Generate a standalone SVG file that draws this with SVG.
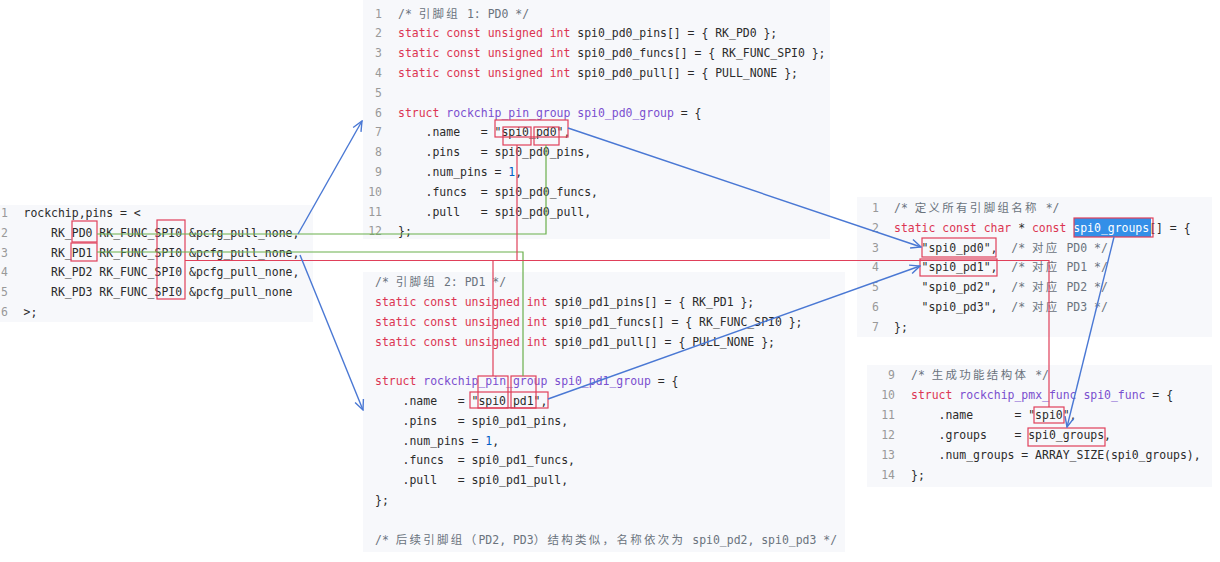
<svg xmlns="http://www.w3.org/2000/svg" width="1220" height="562" viewBox="0 0 1220 562">
<style>
.bg{fill:#f7f8fb}
.c{font-family:"DejaVu Sans Mono","Noto Sans CJK SC",monospace;font-size:11.46px;fill:#2b2b2b;white-space:pre}
.ln{fill:#999;text-anchor:end}
.ll{fill:#999}
.k{fill:#dc3552}
.t{fill:#7a4fcf}
.cm{fill:#6a737d}
.n{fill:#005cc5}
.w{fill:#fff}
.cjk{letter-spacing:2.34px}
.rb{fill:none;stroke:#e0405a;stroke-width:1.2}
.gl{fill:none;stroke:#6ab04c;stroke-width:1.2}
.rl{fill:none;stroke:#e0405a;stroke-width:1.2}
.bl{fill:none;stroke:#4a78d4;stroke-width:1.4}
</style>
<defs>
<marker id="ah" viewBox="0 0 12 12" refX="11" refY="6" markerWidth="12" markerHeight="12" markerUnits="userSpaceOnUse" orient="auto"><path d="M1,1.5 L11,6 L1,10.5" fill="none" stroke="#4a78d4" stroke-width="1.4"/></marker>
</defs>
<rect width="1220" height="562" fill="#fff"/>

<g id="pins-dts">
<rect class="bg" x="0" y="205" width="313" height="117"/>
<text class="c ll" x="1" y="217.3">1</text>
<text class="c ll" x="1" y="237">2</text>
<text class="c ll" x="1" y="256.7">3</text>
<text class="c ll" x="1" y="276.4">4</text>
<text class="c ll" x="1" y="296.1">5</text>
<text class="c ll" x="1" y="315.8">6</text>
<text class="c" x="23.5" y="217.3">rockchip,pins = &lt;</text>
<text class="c" x="23.5" y="237">    RK_PD0 RK_FUNC_SPI0 &amp;pcfg_pull_none,</text>
<text class="c" x="23.5" y="256.7">    RK_PD1 RK_FUNC_SPI0 &amp;pcfg_pull_none,</text>
<text class="c" x="23.5" y="276.4">    RK_PD2 RK_FUNC_SPI0 &amp;pcfg_pull_none,</text>
<text class="c" x="23.5" y="296.1">    RK_PD3 RK_FUNC_SPI0 &amp;pcfg_pull_none</text>
<text class="c" x="23.5" y="315.8">&gt;;</text>
<rect class="rb" x="72" y="221" width="25" height="21"/>
<rect class="rb" x="71" y="243" width="26" height="18"/>
<rect class="rb" x="157" y="220" width="28" height="79"/>
</g>

<g id="group-pd0">
<rect class="bg" x="363" y="0" width="467" height="239"/>
<text class="c ln" x="382" y="17.5">1</text>
<text class="c ln" x="382" y="37.3">2</text>
<text class="c ln" x="382" y="57.1">3</text>
<text class="c ln" x="382" y="76.9">4</text>
<text class="c ln" x="382" y="96.7">5</text>
<text class="c ln" x="382" y="116.5">6</text>
<text class="c ln" x="382" y="136.3">7</text>
<text class="c ln" x="382" y="156.1">8</text>
<text class="c ln" x="382" y="175.9">9</text>
<text class="c ln" x="382" y="195.7">10</text>
<text class="c ln" x="382" y="215.5">11</text>
<text class="c ln" x="382" y="235.3">12</text>
<text class="c cm" x="398" y="17.5">/* <tspan class="cjk">引脚组</tspan> 1: PD0 */</text>
<text class="c" x="398" y="37.3"><tspan class="k">static const unsigned int</tspan> spi0_pd0_pins[] = { RK_PD0 };</text>
<text class="c" x="398" y="57.1"><tspan class="k">static const unsigned int</tspan> spi0_pd0_funcs[] = { RK_FUNC_SPI0 };</text>
<text class="c" x="398" y="76.9"><tspan class="k">static const unsigned int</tspan> spi0_pd0_pull[] = { PULL_NONE };</text>
<text class="c" x="398" y="116.5"><tspan class="k">struct</tspan> <tspan class="t">rockchip_pin_group spi0_pd0_group</tspan> = {</text>
<text class="c" x="398" y="136.3">    .name   = "spi0_pd0",</text>
<text class="c" x="398" y="156.1">    .pins   = spi0_pd0_pins,</text>
<text class="c" x="398" y="175.9">    .num_pins = <tspan class="n">1</tspan>,</text>
<text class="c" x="398" y="195.7">    .funcs  = spi0_pd0_funcs,</text>
<text class="c" x="398" y="215.5">    .pull   = spi0_pd0_pull,</text>
<text class="c" x="398" y="235.3">};</text>
<rect class="rb" x="503" y="127" width="28" height="18"/>
<rect class="rb" x="534" y="127" width="25" height="18"/>
<rect class="rb" x="495" y="120" width="73" height="17"/>
</g>

<g id="group-pd1">
<rect class="bg" x="363" y="272" width="482" height="280"/>
<text class="c cm" x="375" y="286.3">/* <tspan class="cjk">引脚组</tspan> 2: PD1 */</text>
<text class="c" x="375" y="306.1"><tspan class="k">static const unsigned int</tspan> spi0_pd1_pins[] = { RK_PD1 };</text>
<text class="c" x="375" y="325.9"><tspan class="k">static const unsigned int</tspan> spi0_pd1_funcs[] = { RK_FUNC_SPI0 };</text>
<text class="c" x="375" y="345.7"><tspan class="k">static const unsigned int</tspan> spi0_pd1_pull[] = { PULL_NONE };</text>
<text class="c" x="375" y="385.2"><tspan class="k">struct</tspan> <tspan class="t">rockchip_pin_group spi0_pd1_group</tspan> = {</text>
<text class="c" x="375" y="405">    .name   = "spi0_pd1",</text>
<text class="c" x="375" y="424.8">    .pins   = spi0_pd1_pins,</text>
<text class="c" x="375" y="444.6">    .num_pins = <tspan class="n">1</tspan>,</text>
<text class="c" x="375" y="464.4">    .funcs  = spi0_pd1_funcs,</text>
<text class="c" x="375" y="484.2">    .pull   = spi0_pd1_pull,</text>
<text class="c" x="375" y="504">};</text>
<text class="c cm" x="375" y="543.5">/* <tspan class="cjk">后续引脚组（</tspan>PD2, PD3<tspan class="cjk">）结构类似，名称依次为</tspan> spi0_pd2, spi0_pd3 */</text>
<rect class="rb" x="478" y="376" width="30" height="32"/>
<rect class="rb" x="511" y="376" width="25" height="32"/>
<rect class="rb" x="470" y="392" width="78" height="16"/>
</g>

<g id="spi0-groups">
<rect class="bg" x="857" y="197" width="355" height="140"/>
<text class="c ln" x="879" y="212">1</text>
<text class="c ln" x="879" y="231.8">2</text>
<text class="c ln" x="879" y="251.6">3</text>
<text class="c ln" x="879" y="271.4">4</text>
<text class="c ln" x="879" y="291.2">5</text>
<text class="c ln" x="879" y="311">6</text>
<text class="c ln" x="879" y="330.8">7</text>
<rect x="1074" y="218" width="77" height="19" fill="#338fe8"/>
<text class="c cm" x="894" y="212">/* <tspan class="cjk">定义所有引脚组名称</tspan> */</text>
<text class="c" x="894" y="231.8"><tspan class="k">static const char</tspan> * <tspan class="k">const</tspan> <tspan class="w">spi0_groups</tspan>[] = {</text>
<text class="c" x="894" y="251.6">    "spi0_pd0",  <tspan class="cm">/* <tspan class="cjk">对应</tspan> PD0 */</tspan></text>
<text class="c" x="894" y="271.4">    "spi0_pd1",  <tspan class="cm">/* <tspan class="cjk">对应</tspan> PD1 */</tspan></text>
<text class="c" x="894" y="291.2">    "spi0_pd2",  <tspan class="cm">/* <tspan class="cjk">对应</tspan> PD2 */</tspan></text>
<text class="c" x="894" y="311">    "spi0_pd3",  <tspan class="cm">/* <tspan class="cjk">对应</tspan> PD3 */</tspan></text>
<text class="c" x="894" y="330.8">};</text>
<rect class="rb" x="1074" y="218" width="79" height="19"/>
<rect class="rb" x="922" y="238" width="74" height="19"/>
<rect class="rb" x="920" y="259" width="77" height="17"/>
</g>

<g id="spi0-func">
<rect class="bg" x="867" y="365" width="345" height="122"/>
<text class="c ln" x="895" y="379">9</text>
<text class="c ln" x="895" y="399">10</text>
<text class="c ln" x="895" y="419">11</text>
<text class="c ln" x="895" y="439">12</text>
<text class="c ln" x="895" y="459">13</text>
<text class="c ln" x="895" y="479">14</text>
<text class="c cm" x="911" y="379">/* <tspan class="cjk">生成功能结构体</tspan> */</text>
<text class="c" x="911" y="399"><tspan class="k">struct</tspan> <tspan class="t">rockchip_pmx_func spi0_func</tspan> = {</text>
<text class="c" x="911" y="419">    .name      = "spi0",</text>
<text class="c" x="911" y="439">    .groups    = spi0_groups,</text>
<text class="c" x="911" y="459">    .num_groups = ARRAY_SIZE(spi0_groups),</text>
<text class="c" x="911" y="479">};</text>
<rect class="rb" x="1034" y="407" width="30" height="16"/>
<rect class="rb" x="1028" y="428" width="77" height="18"/>
</g>

<g id="connectors">
<polyline class="gl" points="97,234 546,234 546,145"/>
<polyline class="gl" points="97,252 523,252 523,376"/>
<polyline class="rl" points="185,260.5 1049,260.5 1049,407"/>
<line class="rl" x1="517" y1="145" x2="517" y2="260.5"/>
<line class="rl" x1="493" y1="260.5" x2="493" y2="376"/>
<line class="bl" x1="298" y1="234" x2="362" y2="121" marker-end="url(#ah)"/>
<line class="bl" x1="300" y1="255" x2="363" y2="410" marker-end="url(#ah)"/>
<line class="bl" x1="568" y1="128" x2="921" y2="247" marker-end="url(#ah)"/>
<line class="bl" x1="548" y1="399" x2="920" y2="266" marker-end="url(#ah)"/>
<line class="bl" x1="1114" y1="237" x2="1067" y2="427" marker-end="url(#ah)"/>
</g>
</svg>
